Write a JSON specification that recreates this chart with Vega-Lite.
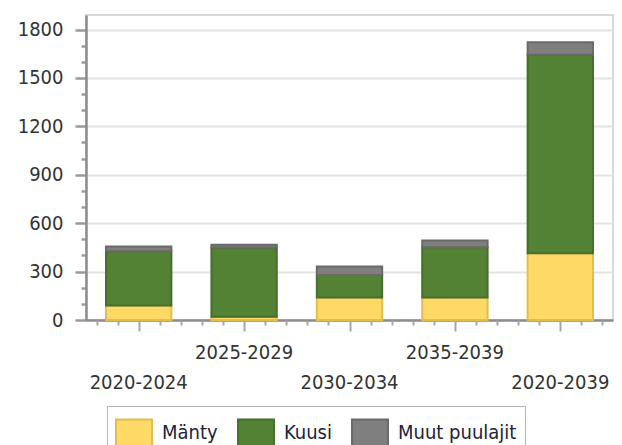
{
  "$schema": "https://vega.github.io/schema/vega-lite/v6.json",
  "width": 527,
  "height": 305,
  "autosize": "none",
  "padding": {"left": 86, "top": 15, "right": 9, "bottom": 125},
  "background": "white",
  "config": {
    "view": {"stroke": "#d9d9d9", "strokeWidth": 2},
    "font": "DejaVu Sans Condensed"
  },
  "data": {
    "values": [
      {"jakso": "2020-2024", "laji": "Mänty", "arvo": 90},
      {"jakso": "2020-2024", "laji": "Kuusi", "arvo": 336},
      {"jakso": "2020-2024", "laji": "Muut puulajit", "arvo": 29},
      {"jakso": "2025-2029", "laji": "Mänty", "arvo": 20},
      {"jakso": "2025-2029", "laji": "Kuusi", "arvo": 430},
      {"jakso": "2025-2029", "laji": "Muut puulajit", "arvo": 17},
      {"jakso": "2030-2034", "laji": "Mänty", "arvo": 140},
      {"jakso": "2030-2034", "laji": "Kuusi", "arvo": 139},
      {"jakso": "2030-2034", "laji": "Muut puulajit", "arvo": 52},
      {"jakso": "2035-2039", "laji": "Mänty", "arvo": 140},
      {"jakso": "2035-2039", "laji": "Kuusi", "arvo": 311},
      {"jakso": "2035-2039", "laji": "Muut puulajit", "arvo": 41},
      {"jakso": "2020-2039", "laji": "Mänty", "arvo": 413},
      {"jakso": "2020-2039", "laji": "Kuusi", "arvo": 1230},
      {"jakso": "2020-2039", "laji": "Muut puulajit", "arvo": 78}
    ]
  },
  "layer": [
    {
      "transform": [
        {"calculate": "indexof(['Mänty','Kuusi','Muut puulajit'], datum.laji)", "as": "pino"}
      ],
      "mark": {"type": "bar", "strokeWidth": 2},
      "encoding": {
        "x": {
          "field": "jakso",
          "type": "nominal",
          "sort": ["2020-2024", "2025-2029", "2030-2034", "2035-2039", "2020-2039"],
          "scale": {"paddingInner": 0.38, "paddingOuter": 0.19},
          "axis": {
            "title": null,
            "ticks": false,
            "domainColor": "#8c8c8c",
            "domainWidth": 2.5,
            "labelAngle": 0,
            "labelFontSize": 20,
            "labelColor": "#333333",
            "labelLineHeight": 30,
            "labelPadding": 22,
            "labelExpr": "indexof(['2025-2029','2035-2039'], datum.value) >= 0 ? datum.value : ['', datum.value]"
          }
        },
        "y": {
          "field": "arvo",
          "type": "quantitative",
          "stack": "zero",
          "scale": {"domain": [0, 1890], "nice": false},
          "axis": {
            "title": null,
            "values": [0,100,200,300,400,500,600,700,800,900,1000,1100,1200,1300,1400,1500,1600,1700,1800],
            "format": "d",
            "labelExpr": "datum.value % 300 === 0 ? datum.label : ''",
            "tickSize": {"condition": {"test": "datum.value % 300 === 0", "value": 11}, "value": 5},
            "tickColor": "#9a9a9a",
            "tickWidth": 2.5,
            "gridOpacity": {"condition": {"test": "datum.value % 300 === 0", "value": 1}, "value": 0},
            "gridColor": "#e3e3e3",
            "gridWidth": 2,
            "domainColor": "#8c8c8c",
            "domainWidth": 2.5,
            "labelFontSize": 20,
            "labelColor": "#333333",
            "labelPadding": 12
          }
        },
        "order": {"field": "pino", "type": "quantitative", "sort": "ascending"},
        "color": {
          "field": "laji",
          "type": "nominal",
          "sort": ["Mänty", "Kuusi", "Muut puulajit"],
          "scale": {"domain": ["Mänty", "Kuusi", "Muut puulajit"], "range": ["#FFD966", "#548235", "#7F7F7F"]},
          "legend": {
            "title": null,
            "orient": "none",
            "legendX": 21,
            "legendY": 391,
            "direction": "horizontal",
            "symbolType": "M-1,-0.78H1V0.78H-1Z",
            "symbolSize": 1296,
            "symbolStrokeWidth": 2,
            "labelFontSize": 20,
            "labelColor": "#22223a",
            "labelOffset": 9,
            "columnPadding": 16,
            "padding": 8,
            "strokeColor": "#b3b3b3"
          }
        },
        "stroke": {
          "field": "laji",
          "type": "nominal",
          "sort": ["Mänty", "Kuusi", "Muut puulajit"],
          "scale": {"domain": ["Mänty", "Kuusi", "Muut puulajit"], "range": ["#E2BC4F", "#466E2C", "#6A6A6A"]}
        }
      }
    },
    {
      "data": {"values": [{}]},
      "mark": {"type": "rule", "opacity": 0},
      "encoding": {
        "x": {
          "datum": 0,
          "type": "quantitative",
          "scale": {"domain": [0, 25], "nice": false, "zero": false},
          "axis": {
            "orient": "bottom",
            "title": null,
            "values": [0.5,1.5,2.5,3.5,4.5,5.5,6.5,7.5,8.5,9.5,10.5,11.5,12.5,13.5,14.5,15.5,16.5,17.5,18.5,19.5,20.5,21.5,22.5,23.5,24.5],
            "labels": false,
            "domain": false,
            "grid": false,
            "tickColor": "#a6a6a6",
            "tickWidth": 2,
            "tickSize": {"condition": {"test": "(datum.value - 2.5) % 5 === 0", "value": 11}, "value": 5}
          }
        }
      }
    }
  ],
  "resolve": {"scale": {"x": "independent"}}
}
